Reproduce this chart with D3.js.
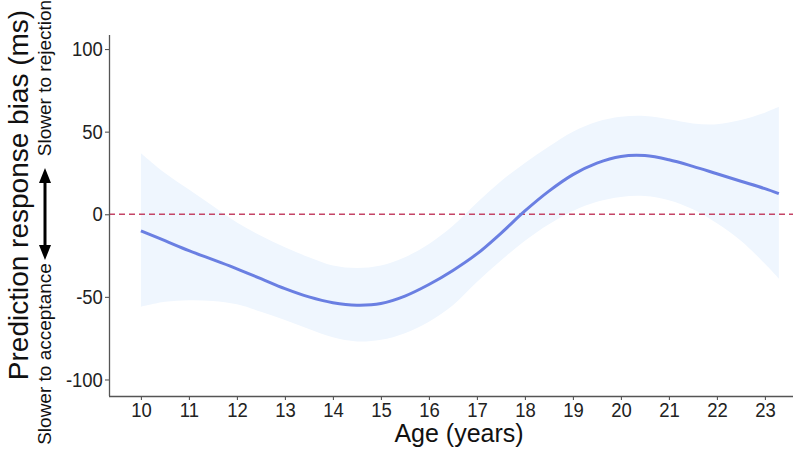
<!DOCTYPE html>
<html>
<head>
<meta charset="utf-8">
<script src="https://cdn.jsdelivr.net/npm/d3@7"></script>
<style>
  html, body { margin: 0; padding: 0; background: #fff; }
  svg { display: block; font-family: "Liberation Sans", Arial, sans-serif; }
</style>
</head>
<body>
<div id="chart"></div>
<script>
// model fit (smooth) with confidence ribbon
const ages  = [10, 10.5, 11, 11.5, 12, 12.5, 13, 13.5, 14, 14.5, 15, 15.5, 16, 16.5, 17, 17.5, 18, 18.5, 19, 19.5, 20, 20.5, 21, 21.5, 22, 22.5, 23, 23.29];
const fit   = [-10, -16, -22, -27.5, -33, -39, -45, -50, -53.5, -55, -54, -49.5, -42.5, -34, -24, -11.5, 2, 14, 24, 31, 35, 35.5, 33, 29, 24.5, 20, 15.5, 12.5];
const upper = [37, 25, 15, 5, -5, -13, -20, -26, -31, -32.5, -31, -26, -18, -7, 7, 20, 31, 41, 50, 56, 59, 59.5, 57.5, 55, 54.5, 57, 61.5, 65];
const lower = [-56, -53, -52, -52.5, -54.5, -59, -64, -69.5, -74.5, -77, -76, -72, -65, -55, -41, -28, -16, -6, 2, 7.5, 10.5, 11, 8.5, 3, -5.5, -16, -30, -39];

const xTicks = [10, 11, 12, 13, 14, 15, 16, 17, 18, 19, 20, 21, 22, 23];
const yTicks = [-100, -50, 0, 50, 100];

const width = 793, height = 449;
const margin = { left: 109, right: 793, top: 35, bottom: 396 };
const { left, right, bottom } = margin;
const plotTop = margin.top;

const svg = d3.select("#chart").append("svg")
  .attr("width", width)
  .attr("height", height);

const x = d3.scaleLinear().domain([9.335, 23.585]).range([left, right]);
const y = d3.scaleLinear().domain([-110, 108.5]).range([bottom, plotTop]);

const rows = ages.map((a, i) => ({ age: a, fit: fit[i], lo: lower[i], hi: upper[i] }));

// ribbon
svg.append("path")
  .datum(rows)
  .attr("fill", "#eff6fe")
  .attr("d", d3.area()
    .x(d => x(d.age))
    .y0(d => y(d.lo))
    .y1(d => y(d.hi))
    .curve(d3.curveCatmullRom));

// zero reference
svg.append("line")
  .attr("x1", left).attr("x2", right)
  .attr("y1", y(0)).attr("y2", y(0))
  .attr("stroke", "#c44466")
  .attr("stroke-width", 1.6)
  .attr("stroke-dasharray", "6,4");

// fitted line
svg.append("path")
  .datum(rows)
  .attr("fill", "none")
  .attr("stroke", "#6a7fe2")
  .attr("stroke-width", 3)
  .attr("d", d3.line()
    .x(d => x(d.age))
    .y(d => y(d.fit))
    .curve(d3.curveCatmullRom));

// axes
const xAxis = svg.append("g")
  .attr("transform", `translate(0, ${bottom})`)
  .call(d3.axisBottom(x).tickValues(xTicks).tickSize(4).tickPadding(2)
    .tickFormat(d => String(d)));

const yAxis = svg.append("g")
  .attr("transform", `translate(${left}, 0)`)
  .call(d3.axisLeft(y).tickValues(yTicks).tickSize(4).tickPadding(3)
    .tickFormat(d => String(d)));

[xAxis, yAxis].forEach(g => {
  g.select(".domain").attr("stroke", "#555").attr("stroke-width", 1.3);
  g.selectAll(".tick line").attr("stroke", "#555").attr("stroke-width", 1.1);
  g.selectAll(".tick text")
    .attr("fill", "#222")
    .attr("transform", "scale(0.88,1)")
    .style("font-size", "21px")
    .style("font-family", "'Liberation Sans', Arial, sans-serif");
});
xAxis.select(".domain").attr("d", `M${left},0.5H${right}`);
yAxis.select(".domain").attr("d", `M0.5,${bottom}V${plotTop}`);

// titles
svg.append("text")
  .attr("x", 459).attr("y", 442)
  .attr("text-anchor", "middle")
  .style("font-size", "25px")
  .attr("fill", "#111")
  .text("Age (years)");

svg.append("text")
  .attr("transform", "translate(28, 195) rotate(-90)")
  .attr("text-anchor", "middle")
  .style("font-size", "28px")
  .attr("fill", "#111")
  .text("Prediction response bias (ms)");

svg.append("text")
  .attr("transform", "translate(51, 78) rotate(-90)")
  .attr("text-anchor", "middle")
  .style("font-size", "19px")
  .attr("fill", "#111")
  .text("Slower to rejection");

svg.append("text")
  .attr("transform", "translate(51, 354) rotate(-90)")
  .attr("text-anchor", "middle")
  .style("font-size", "19px")
  .attr("fill", "#111")
  .text("Slower to acceptance");

// double-headed arrow
const ax = 45, ay1 = 168, ay2 = 260;
svg.append("line")
  .attr("x1", ax).attr("x2", ax)
  .attr("y1", ay1 + 10).attr("y2", ay2 - 10)
  .attr("stroke", "#000")
  .attr("stroke-width", 3);
svg.append("path")
  .attr("fill", "#000")
  .attr("d", `M${ax},${ay1}L${ax - 6},${ay1 + 15}L${ax + 6},${ay1 + 15}Z`);
svg.append("path")
  .attr("fill", "#000")
  .attr("d", `M${ax},${ay2}L${ax - 6},${ay2 - 15}L${ax + 6},${ay2 - 15}Z`);
</script>
</body>
</html>
